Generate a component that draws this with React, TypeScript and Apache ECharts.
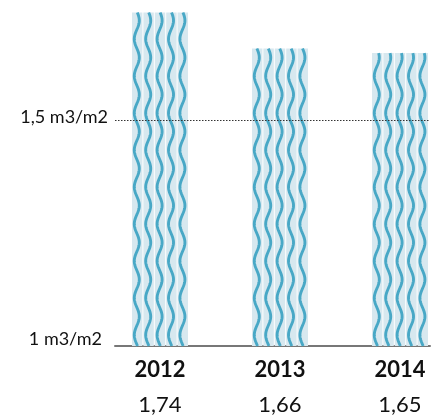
import React, { useEffect, useRef } from "react";
import * as echarts from "echarts";

const years = ["2012", "2013", "2014"];
const values = [1.74, 1.66, 1.65];
const valueLabels = ["1,74", "1,66", "1,65"];
const yTickLabels: Record<string, string> = { "1": "1 m3/m2", "1.5": "1,5 m3/m2" };

const FONT = "Lato, 'Open Sans', sans-serif";

export default function App() {
  const ref = useRef<HTMLDivElement>(null);
  useEffect(() => {
    if (!ref.current) return;
    const chart = echarts.init(ref.current, undefined, { renderer: "svg" });
    const data = values.map((v, i) => [i, v]);
    const renderItem = (params: any, api: any) => {
      const x = api.value(0);
      const v = api.value(1);
      const base = api.coord([x, 1]);
      const top = api.coord([x, v]);
      const barW = api.size([0.467, 0])[0];
      const left = base[0] - barW / 2;
      const gap = 1;
      const n = 5;
      const stripW = (barW - gap * (n - 1)) / n;
      const period = 37;
      const amp = 2.5;
      const anchor = base[1] - 11;
      const children: any[] = [];
      for (let i = 0; i < n; i++) {
        const sx = left + i * (stripW + gap);
        children.push({
          type: "rect",
          shape: { x: sx, y: top[1], width: stripW, height: base[1] - top[1] },
          style: { fill: "#d7e8ef" },
        });
        const cx = sx + stripW / 2 - 0.4;
        let d = "";
        for (let y = base[1]; y >= top[1]; y -= 1) {
          const off = -amp * Math.cos((2 * Math.PI * (y - anchor)) / period);
          d += (d ? " L " : "M ") + (cx + off).toFixed(2) + " " + y.toFixed(2);
        }
        const yt = top[1];
        const offt = -amp * Math.cos((2 * Math.PI * (yt - anchor)) / period);
        d += " L " + (cx + offt).toFixed(2) + " " + yt.toFixed(2);
        children.push({
          type: "path",
          shape: { pathData: d },
          style: { fill: "none", stroke: "#48a8c6", lineWidth: 2.9 },
        });
      }
      children.push({
        type: "text",
        x: base[0],
        y: base[1] + 22,
        style: {
          text: years[params.dataIndex],
          fill: "#111",
          font: "bold 22px " + FONT,
          align: "center",
          verticalAlign: "middle",
        },
      });
      children.push({
        type: "text",
        x: base[0],
        y: base[1] + 57,
        style: {
          text: valueLabels[params.dataIndex],
          fill: "#111",
          font: "22px " + FONT,
          align: "center",
          verticalAlign: "middle",
        },
      });
      return { type: "group", children };
    };

    chart.setOption({
      animation: false,
      grid: { left: 115, right: 4, top: 8, bottom: 72 },
      xAxis: {
        type: "value",
        min: -0.375,
        max: 2.25,
        axisLine: { show: true, onZero: false, lineStyle: { color: "#777", width: 2 } },
        axisTick: { show: false },
        axisLabel: { show: false },
        splitLine: { show: false },
      },
      yAxis: {
        type: "value",
        min: 1,
        max: 1.75,
        interval: 0.5,
        axisLine: { show: false },
        axisTick: { show: false },
        splitLine: { show: false },
        axisLabel: {
          margin: 7,
          formatter: (val: number) => {
            const t = yTickLabels[String(val)];
            if (!t) return "";
            return val === 1 ? "{lo|" + t + "}" : "{hi|" + t + "}";
          },
          rich: {
            lo: { fontFamily: FONT, fontSize: 18, color: "#111", padding: [0, 6, 17, 0] },
            hi: { fontFamily: FONT, fontSize: 18, color: "#111", padding: [0, 0, 10, 0] },
          },
        },
      },
      series: [
        {
          type: "line",
          data: [],
          z: 1,
          markLine: {
            silent: true,
            symbol: "none",
            label: { show: false },
            lineStyle: { type: [1.5, 1.5], color: "#333", width: 1 },
            data: [{ yAxis: 1.5 }],
          },
        },
        {
          type: "custom",
          z: 3,
          renderItem,
          data,
        },
      ],
    });
    return () => chart.dispose();
  }, []);
  return (
    <div
      ref={ref}
      style={{ position: "fixed", left: 0, top: 0, width: 434, height: 418 }}
    />
  );
}
